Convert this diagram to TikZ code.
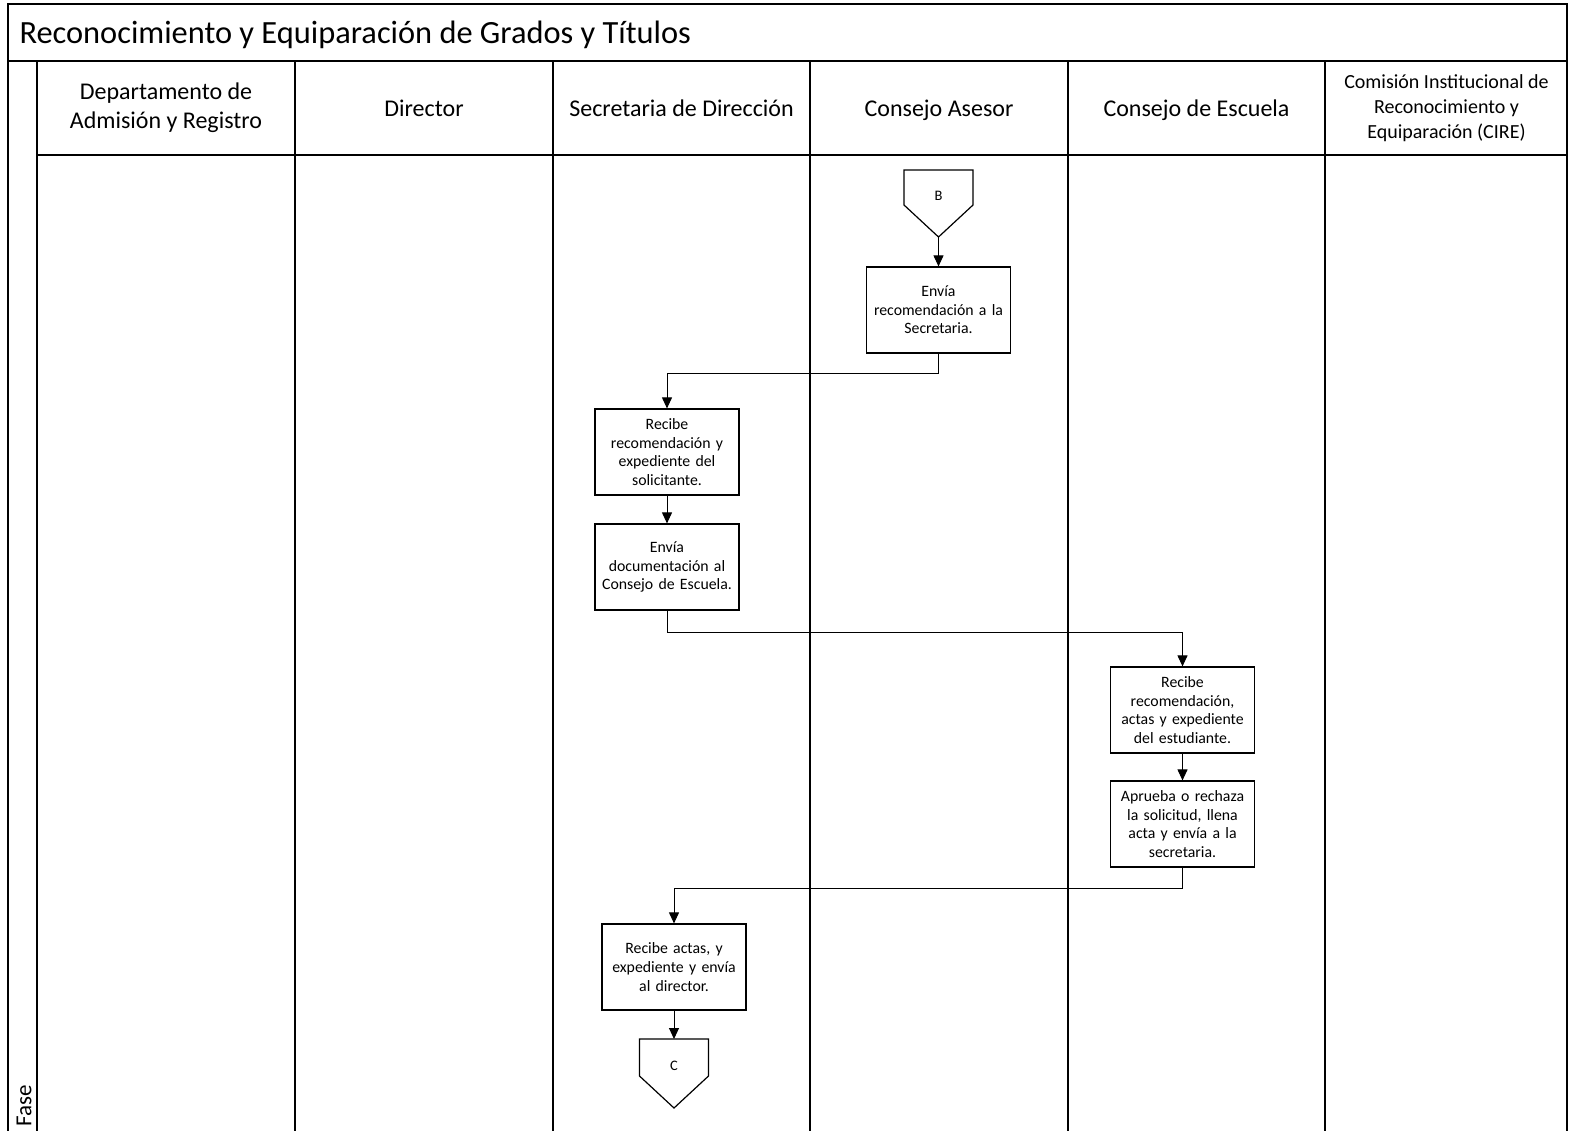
\documentclass[tikz,border=0pt]{standalone}
\usepackage{fontspec}
\setmainfont{Carlito}
\usetikzlibrary{arrows.meta}

\tikzset{
  lane/.style={line width=1.4pt, black},
  actbox/.style={draw, line width=1.2pt, minimum width=144pt, minimum height=86pt,
    text width=142pt, align=center, inner sep=0pt,
    font=\fontsize{15.8}{18.6}\selectfont},
  lanehead/.style={align=center, font=\fontsize{24}{29}\selectfont},
  flow/.style={line width=1pt, -{Triangle[length=11pt, width=10pt]}},
  offpage/.style={draw, line width=1.2pt, line join=miter},
  offlabel/.style={font=\fontsize{14.5}{16}\selectfont}
}

\begin{document}
\begin{tikzpicture}[x=1pt, y=-1pt]
  \useasboundingbox (0,0) rectangle (1569,1130);

  % frame, title bar and swimlane grid
  \draw[lane] (8,1131) -- (8,4) -- (1567,4) -- (1567,1131);
  \draw[lane] (8,61) -- (1567,61);
  \draw[lane] (37,155) -- (1567,155);
  \foreach \xx in {37,295,553,810,1068,1325}
    \draw[lane] (\xx,61) -- (\xx,1131);

  \node[anchor=base west, font=\fontsize{32.4}{36}\selectfont] (title) at (16,43.5)
    {Reconocimiento y Equiparación de Grados y Títulos};

  \node[rotate=90, anchor=west, font=\fontsize{23}{26}\selectfont] (fase) at (24,1130) {Fase};

  % lane headers
  \node[lanehead] (h1) at (166,108) {Departamento de\\Admisión y Registro};
  \node[lanehead, anchor=base] (h2) at (424,116) {Director};
  \node[lanehead, anchor=base] (h3) at (681.5,116) {Secretaria de Dirección};
  \node[lanehead, anchor=base] (h4) at (939,116) {Consejo Asesor};
  \node[lanehead, anchor=base] (h5) at (1196.5,116) {Consejo de Escuela};
  \node[lanehead, font=\fontsize{20}{25}\selectfont] (h6) at (1446.5,108)
    {Comisión Institucional de\\Reconocimiento y\\Equiparación (CIRE)};

  % off-page connector B
  \draw[offpage] (904,170) -- (973,170) -- (973,205) -- (938.5,237) -- (904,205) -- cycle;
  \node[offlabel] (B) at (938.5,196) {B};
  \coordinate (Btip) at (938.5,237);

  % activities
  \node[actbox] (a1) at (938.5,310) {Envía\\recomendación a la\\Secretaria.};
  \node[actbox] (a2) at (667,452) {Recibe\\recomendación y\\expediente del\\solicitante.};
  \node[actbox] (a3) at (667,567) {Envía\\documentación al\\Consejo de Escuela.};
  \node[actbox] (a4) at (1182.5,710) {Recibe\\recomendación,\\actas y expediente\\del estudiante.};
  \node[actbox] (a5) at (1182.5,824) {Aprueba o rechaza\\la solicitud, llena\\acta y envía a la\\secretaria.};
  \node[actbox] (a6) at (674,967) {Recibe actas, y\\expediente y envía\\al director.};

  % off-page connector C
  \draw[offpage] (639.5,1039) -- (708.5,1039) -- (708.5,1076) -- (674,1108) -- (639.5,1076) -- cycle;
  \node[offlabel] (C) at (674,1066) {C};
  \coordinate (Ctop) at (674,1039);

  % flow connectors
  \draw[flow] (Btip) -- (a1.north);
  \draw[flow] (a1.south) |- (667,373) -- (a2.north);
  \draw[flow] (a2.south) -- (a3.north);
  \draw[flow] (a3.south) |- (1182.5,632) -- (a4.north);
  \draw[flow] (a4.south) -- (a5.north);
  \draw[flow] (a5.south) |- (674,888) -- (a6.north);
  \draw[flow] (a6.south) -- (Ctop);
\end{tikzpicture}
\end{document}
